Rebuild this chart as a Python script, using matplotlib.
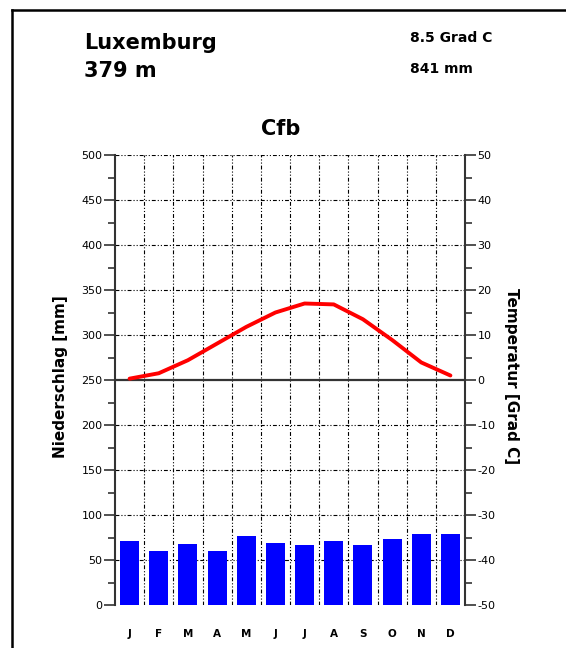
import numpy as np
import matplotlib.pyplot as plt
from matplotlib.lines import Line2D
from matplotlib.ticker import MultipleLocator

# ---------------- DATA ----------------
months = ["J", "F", "M", "A", "M", "J", "J", "A", "S", "O", "N", "D"]
precip_mm = [71, 60, 68, 60, 77, 69, 67, 71, 67, 73, 79, 79]
temp_c = [0.3, 1.5, 4.4, 8.1, 11.8, 15.0, 17.0, 16.8, 13.5, 8.9, 3.9, 1.0]

station = "Luxemburg"
height_txt = "379 m"
mean_temp_txt = "8.5 Grad C"
sum_precip_txt = "841 mm"
climate_class = "Cfb"
# ---------------------------------------

plt.rcParams["font.family"] = ["DejaVu Sans"]
plt.rcParams["axes.unicode_minus"] = False

W, H = 566, 648
fig = plt.figure(figsize=(W / 100, H / 100), dpi=100)

# axes box in pixels: x 115..465, y 155..605 (from top)
L, R, T, B = 115, 465, 155, 605
ax = fig.add_axes([L / W, 1 - B / H, (R - L) / W, (B - T) / H])
ax2 = ax.twinx()

x = np.arange(1, 13)

# ---------- precipitation (left axis) ----------
ax.bar(x, precip_mm, width=0.65, color="#0000ff", zorder=3)
ax.set_xlim(0.5, 12.5)
ax.set_ylim(0, 500)
ax.yaxis.set_major_locator(MultipleLocator(50))
ax.yaxis.set_minor_locator(MultipleLocator(25))

grid_ls = (0, (3.5, 1.8, 1, 1.8, 1, 1.8))
for yv in range(50, 501, 50):
    if yv == 250:
        continue
    ax.axhline(yv, color="black", lw=0.8, ls=grid_ls, zorder=1)
for xv in np.arange(1.5, 12.0, 1.0):
    ax.axvline(xv, color="black", lw=0.8, ls=grid_ls, zorder=1)

ax.set_xticks(x)
ax.set_xticklabels(months, fontsize=7.5, fontweight="bold")
ax.tick_params(axis="x", length=0, pad=17)
ax.tick_params(axis="y", which="major", direction="out", length=8, width=1.2,
               labelsize=8, pad=1, color="#333333")
ax.tick_params(axis="y", which="minor", direction="out", length=5, width=1.2,
               color="#333333")

for s in ["top", "bottom", "right"]:
    ax.spines[s].set_visible(False)
ax.spines["left"].set_linewidth(1.5)
ax.spines["left"].set_color("#333333")

# ---------- temperature (right axis) ----------
ax2.set_ylim(-50, 50)
ax2.axhline(0, color="#333333", lw=1.6, zorder=2)
ax2.plot(x, temp_c, color="#ff0000", lw=2.8, solid_capstyle="round",
         solid_joinstyle="round", zorder=4)
ax2.yaxis.set_major_locator(MultipleLocator(10))
ax2.yaxis.set_minor_locator(MultipleLocator(5))
ax2.tick_params(axis="y", which="major", direction="out", length=8, width=1.2,
                labelsize=8, pad=1, color="#333333")
ax2.tick_params(axis="y", which="minor", direction="out", length=5, width=1.2,
                color="#333333")
for s in ["top", "bottom", "left"]:
    ax2.spines[s].set_visible(False)
ax2.spines["right"].set_linewidth(1.5)
ax2.spines["right"].set_color("#333333")

# ---------- axis labels ----------
fig.text(60 / W, 1 - 377 / H, "Niederschlag [mm]", rotation=90, ha="center",
         va="center", fontsize=11, fontweight="bold")
fig.text(512 / W, 1 - 376 / H, "Temperatur [Grad C]", rotation=-90, ha="center",
         va="center", fontsize=11, fontweight="bold")

# ---------- header text ----------
fig.text(84 / W, 1 - 49 / H, station, fontsize=15, fontweight="bold", va="baseline")
fig.text(84 / W, 1 - 77 / H, height_txt, fontsize=15, fontweight="bold", va="baseline")
fig.text(410 / W, 1 - 42 / H, mean_temp_txt, fontsize=10, fontweight="bold", va="baseline")
fig.text(410 / W, 1 - 73 / H, sum_precip_txt, fontsize=10, fontweight="bold", va="baseline")
fig.text(281 / W, 1 - 135 / H, climate_class, fontsize=15, fontweight="bold",
         ha="center", va="baseline")

# ---------- frame (top + left only) ----------
fig.add_artist(Line2D([12 / W, 1], [1 - 10 / H, 1 - 10 / H], color="black", lw=1.8))
fig.add_artist(Line2D([12 / W, 12 / W], [1 - 10 / H, 0], color="black", lw=1.8))

fig.savefig("out.png", dpi=100)
